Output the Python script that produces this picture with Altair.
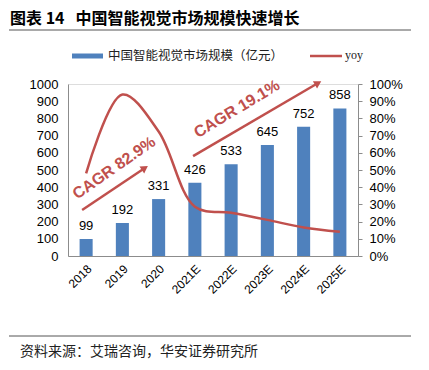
import altair as alt
import pandas as pd

# ---- data ----
years = ["2018", "2019", "2020", "2021E", "2022E", "2023E", "2024E", "2025E"]
market = [99, 192, 331, 426, 533, 645, 752, 858]
yoy = [0.48, 0.939, 0.724, 0.287, 0.251, 0.21, 0.166, 0.141]

left_ticks = list(range(0, 1001, 100))
right_ticks = [i / 10 for i in range(11)]

title_text = "图表 14\u00a0\u00a0\u00a0中国智能视觉市场规模快速增长"
legend_bar = "中国智能视觉市场规模（亿元）"
legend_line = "yoy"
source_text = "资料来源：艾瑞咨询，华安证券研究所"

# CAGR annotations (x in category-index units, y in market units)
cagr_labels = ["CAGR 82.9%", "CAGR 19.1%"]
cagr_x = [1.27, 4.66]
cagr_y = [512, 855]
cagr_angle = [325, 329]
arrow_x = [0.39, 3.45]
arrow_y = [267, 581]
arrow_x2 = [2.12, 6.90]
arrow_y2 = [512, 1006]
arrow_head_angle = [56, 60]

BLUE = "#4f81bd"
RED = "#c0504d"
AXIS_GRAY = "#8c8c8c"
LATIN = "Liberation Sans"
CJK = "Noto Sans CJK SC"

df = pd.DataFrame({"year": years, "market": market, "yoy": yoy})
one = pd.DataFrame({"k": [1]})

xband = alt.Scale(type="band", paddingInner=0.64, paddingOuter=0.32)
ymain = alt.Scale(domain=[0, 1000])

base = alt.Chart(df)

bars = base.mark_bar(color=BLUE).encode(
    x=alt.X("year:N", sort=years, scale=xband,
            axis=alt.Axis(title=None, labelAngle=-45, ticks=False, domainColor=AXIS_GRAY,
                          labelFont=LATIN, labelFontSize=12, labelColor="#000",
                          labelPadding=7)),
    y=alt.Y("market:Q", scale=ymain,
            axis=alt.Axis(title=None, orient="left", values=left_ticks, format="d",
                          ticks=False, grid=False,
                          domainColor=AXIS_GRAY, labelFont=LATIN, labelFontSize=13,
                          labelColor="#000", labelPadding=10)),
)

labels = base.mark_text(font=LATIN, fontSize=13, baseline="bottom", dy=-6, color="#000").encode(
    x=alt.X("year:N", sort=years, scale=xband, axis=None),
    y=alt.Y("market:Q", scale=ymain, axis=None),
    text="market:Q",
)

line = base.mark_line(color=RED, strokeWidth=2.5, interpolate="catmull-rom").encode(
    x=alt.X("year:N", sort=years, scale=xband, axis=None),
    y=alt.Y("yoy:Q", scale=alt.Scale(domain=[0, 1]),
            axis=alt.Axis(title=None, orient="right", values=right_ticks, format=".0%",
                          ticks=True, tickSize=4, tickColor=AXIS_GRAY, grid=False,
                          domainColor=AXIS_GRAY, labelFont=LATIN, labelFontSize=13,
                          labelColor="#000", labelPadding=7)),
)

ann = pd.DataFrame({
    "label": cagr_labels, "x": cagr_x, "y": cagr_y, "angle": cagr_angle,
    "ax": arrow_x, "ay": arrow_y, "ax2": arrow_x2, "ay2": arrow_y2, "hangle": arrow_head_angle,
})
xq = alt.Scale(domain=[0, 8])

ann_layers = []
for i in range(len(cagr_labels)):
    sub = alt.Chart(ann.iloc[[i]])
    ann_layers.append(
        sub.mark_text(font=LATIN, fontSize=16, fontWeight="bold", color=RED,
                      angle=cagr_angle[i], align="center", baseline="middle").encode(
            x=alt.X("x:Q", scale=xq, axis=None),
            y=alt.Y("y:Q", scale=ymain, axis=None),
            text="label:N",
        )
    )

arrows = alt.Chart(ann).mark_rule(color=RED, strokeWidth=2.5).encode(
    x=alt.X("ax:Q", scale=xq, axis=None),
    x2="ax2:Q",
    y=alt.Y("ay:Q", scale=ymain, axis=None),
    y2="ay2:Q",
)
heads = alt.Chart(ann).mark_point(shape="triangle-up", filled=True, size=70, color=RED,
                                  opacity=1).encode(
    x=alt.X("ax2:Q", scale=xq, axis=None),
    y=alt.Y("ay2:Q", scale=ymain, axis=None),
    angle=alt.Angle("hangle:Q", scale=None),
)

# ---- title, legend, source (page decoration) ----
deco = alt.Chart(one)
title = deco.mark_text(font=CJK, fontSize=16, fontWeight="bold", align="left",
                       baseline="middle", color="#000").encode(
    x=alt.value(-58), y=alt.value(-65), text=alt.value(title_text))
title_rule = deco.mark_rule(color="#555", strokeWidth=1).encode(
    x=alt.value(-59), x2=alt.value(361), y=alt.value(-54))
leg_bar = deco.mark_rule(color=BLUE, strokeWidth=5).encode(
    x=alt.value(4), x2=alt.value(35), y=alt.value(-28))
leg_bar_t = deco.mark_text(font=CJK, fontSize=12.5, align="left", baseline="middle",
                           color="#222").encode(
    x=alt.value(40), y=alt.value(-28), text=alt.value(legend_bar))
leg_line = deco.mark_rule(color=RED, strokeWidth=2.5).encode(
    x=alt.value(242), x2=alt.value(274), y=alt.value(-28))
leg_line_t = deco.mark_text(font="Liberation Serif", fontSize=12, align="left",
                            baseline="middle", color="#222").encode(
    x=alt.value(277), y=alt.value(-29), text=alt.value(legend_line))
src_rule = deco.mark_rule(color="#555", strokeWidth=1).encode(
    x=alt.value(-59), x2=alt.value(361), y=alt.value(252))
src = deco.mark_text(font=CJK, fontSize=14, align="left", baseline="middle",
                     color="#222").encode(
    x=alt.value(-48), y=alt.value(268), text=alt.value(source_text))

chart = alt.layer(
    bars, labels, line, *ann_layers, arrows, heads,
    title, title_rule, leg_bar, leg_bar_t, leg_line, leg_line_t, src_rule, src,
).resolve_scale(x="independent", y="independent").properties(
    width=290, height=172,
    autosize=alt.AutoSizeParams(type="none"),
    padding={"left": 60, "top": 76, "right": 53, "bottom": 103},
).configure_view(stroke=None).configure(background="white")

chart.save("out.html", embed_options={"renderer": "svg", "actions": False})
